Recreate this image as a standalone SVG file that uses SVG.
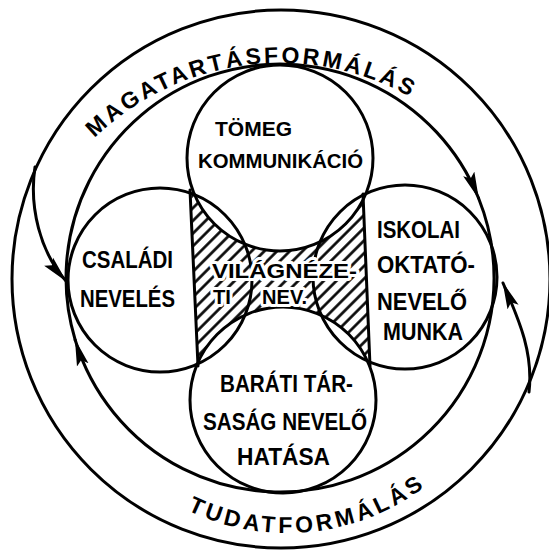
<svg xmlns="http://www.w3.org/2000/svg" width="549" height="552" viewBox="0 0 549 552">
<defs>
<style>
.ln{fill:none;stroke:#000;stroke-width:3;stroke-linecap:round}
.lbl{font-family:"Liberation Sans",Arial,sans-serif;font-weight:bold;font-size:23px;fill:#000}
.sm{font-size:21px}
.halo{stroke:#fff;stroke-width:6;paint-order:stroke;stroke-linejoin:round}
.ring{font-family:"Liberation Sans",Arial,sans-serif;font-weight:bold;font-size:23px;fill:#000}
</style>
<pattern id="hatch" patternUnits="userSpaceOnUse" width="9" height="9" patternTransform="rotate(45)">
<line x1="4.5" y1="0" x2="4.5" y2="9" stroke="#000" stroke-width="2.6"/>
</pattern>
<marker id="ah" viewBox="0 0 27 13" refX="26" refY="6.5" markerWidth="27" markerHeight="13" markerUnits="userSpaceOnUse" orient="auto">
<path d="M0,0.5 L27,6.5 L0,12.5 L5,6.5 Z" fill="#000"/>
</marker>
<path id="topArc" d="M75.5,158.4 A267,267 0 0 1 433.1,111.3"/>
<path id="botArc" d="M156.2,491.8 A228,228 0 0 0 451,463.4"/>
</defs>
<rect width="549" height="552" fill="#fff"/>

<g id="outer-ring">
<circle class="ln" cx="281" cy="279" r="269"/>
<text class="ring"><textPath href="#topArc" startOffset="50%" text-anchor="middle" textLength="340" lengthAdjust="spacing">MAGATARTÁSFORMÁLÁS</textPath></text>
<text class="ring"><textPath href="#botArc" startOffset="50%" text-anchor="middle" textLength="250" lengthAdjust="spacing">TUDATFORMÁLÁS</textPath></text>
</g>

<g id="world-view">
<path d="M191,185 L198,362 A93,93 0 0 1 370,367 L363,200 A93,93 0 0 1 191,185 Z" fill="url(#hatch)"/>
<line class="ln" x1="190" y1="190" x2="198" y2="366"/>
<line class="ln" x1="363" y1="194" x2="370" y2="366"/>
</g>

<g id="mass-communication">
<circle class="ln" cx="280" cy="158" r="93"/>
<text class="lbl sm" x="215" y="136" textLength="77" lengthAdjust="spacingAndGlyphs">TÖMEG</text>
<text class="lbl sm" x="198" y="168" textLength="165" lengthAdjust="spacingAndGlyphs">KOMMUNIKÁCIÓ</text>
</g>

<g id="family">
<circle class="ln" cx="160" cy="280" r="92"/>
<text class="lbl" x="82" y="268" textLength="91" lengthAdjust="spacingAndGlyphs">CSALÁDI</text>
<text class="lbl" x="80" y="307" textLength="95" lengthAdjust="spacingAndGlyphs">NEVELÉS</text>
</g>

<g id="school">
<circle class="ln" cx="405" cy="277" r="92"/>
<text class="lbl" x="377" y="238" textLength="83" lengthAdjust="spacingAndGlyphs">ISKOLAI</text>
<text class="lbl" x="377" y="273" textLength="98" lengthAdjust="spacingAndGlyphs">OKTATÓ-</text>
<text class="lbl" x="377" y="310" textLength="90" lengthAdjust="spacingAndGlyphs">NEVELŐ</text>
<text class="lbl" x="383" y="340" textLength="80" lengthAdjust="spacingAndGlyphs">MUNKA</text>
</g>

<g id="friends">
<circle class="ln" cx="283" cy="400" r="93"/>
<text class="lbl" x="220" y="392" textLength="133" lengthAdjust="spacingAndGlyphs">BARÁTI TÁR-</text>
<text class="lbl" x="203" y="430" textLength="164" lengthAdjust="spacingAndGlyphs">SASÁG NEVELŐ</text>
<text class="lbl" x="237" y="465" textLength="93" lengthAdjust="spacingAndGlyphs">HATÁSA</text>
</g>

<g id="world-view-label">
<text class="lbl sm halo" x="212" y="278" textLength="145" lengthAdjust="spacingAndGlyphs">VILÁGNÉZE-</text>
<text class="lbl sm halo" x="213" y="304" textLength="18" lengthAdjust="spacingAndGlyphs">TI</text>
<text class="lbl sm halo" x="262" y="304" textLength="45" lengthAdjust="spacingAndGlyphs">NEV.</text>
</g>

<g id="connectors">
<path class="ln" d="M478.5,198 A214,214 0 1 1 75.2,340" marker-end="url(#ah)"/>
<path class="ln" d="M75.2,340 A214,214 0 0 1 478.5,198" marker-end="url(#ah)"/>
<path class="ln" d="M35,167 C29,207 40,252 66,281" marker-end="url(#ah)"/>
<path class="ln" d="M529,392 C534,350 516,314 503,283" marker-end="url(#ah)"/>
</g>
</svg>
